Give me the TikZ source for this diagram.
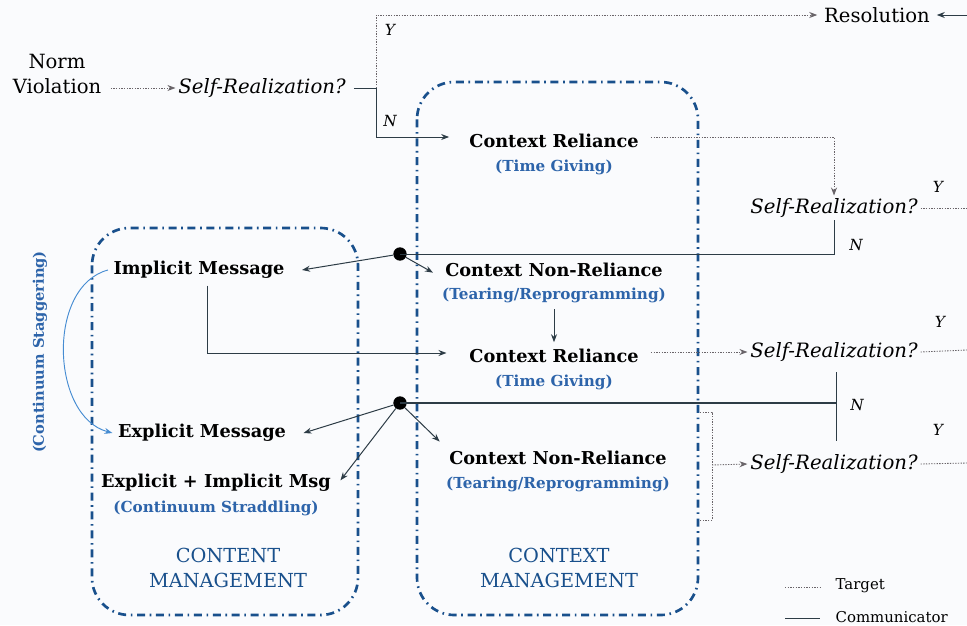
\documentclass[tikz,border=0pt]{standalone}
\usepackage{fontspec}
\setmainfont{DejaVu Serif}
\usetikzlibrary{arrows.meta}
\definecolor{bgc}{RGB}{250,251,253}
\definecolor{boxblue}{RGB}{25,80,140}
\definecolor{txtblue}{RGB}{45,100,170}
\definecolor{arcblue}{RGB}{70,140,210}
\definecolor{commc}{RGB}{45,60,70}
\definecolor{tgtc}{RGB}{105,100,105}
\tikzset{
  mainlbl/.style={font=\fontsize{13.3}{15}\selectfont\bfseries, inner sep=1pt},
  sublbl/.style={font=\fontsize{11.4}{13}\selectfont\bfseries, text=txtblue, inner sep=1pt},
  srlbl/.style={font=\fontsize{14.8}{17}\selectfont\itshape, inner sep=2pt},
  yn/.style={font=\fontsize{11.5}{13}\selectfont\itshape, inner sep=1pt},
  plain/.style={font=\fontsize{14.7}{19}\selectfont, inner sep=1pt},
  mgmt/.style={font=\fontsize{14.5}{19}\selectfont, text=boxblue, align=center, inner sep=1pt},
  comm/.style={draw=commc, line width=0.75pt},
  tgt/.style={draw=tgtc, line width=0.65pt, dash pattern=on 1pt off 1pt},
  arr/.style={-{Stealth[length=6pt,width=4.5pt]}},
  mgbox/.style={draw=boxblue, line width=2pt, rounded corners=28pt, dash pattern=on 6pt off 3.5pt on 1.2pt off 3.5pt},
  jdot/.style={circle, fill=black, inner sep=0pt, minimum size=10pt},
  leg/.style={font=\fontsize{11.2}{13}\selectfont, anchor=west, inner sep=1pt},
}
\begin{document}
\begin{tikzpicture}[x=0.75pt,y=-0.75pt]
\fill[bgc] (0,0) rectangle (967,625);
\useasboundingbox (0,0) rectangle (967,625);

% management boxes
\draw[mgbox] (92,228) rectangle (358,615);
\draw[mgbox] (417,82) rectangle (698,615);
\node[mgmt] (mg1) at (228,568) {CONTENT\\MANAGEMENT};
\node[mgmt] (mg2) at (559,568) {CONTEXT\\MANAGEMENT};

% nodes
\node[plain, align=center] (nv) at (57,74) {Norm\\Violation};
\node[srlbl] (sr0) at (262,88) {Self-Realization?};
\node[plain] (res) at (877,15) {Resolution};
\node[mainlbl] (cr1) at (554,141) {Context Reliance};
\node[sublbl] (tg1) at (554,167) {(Time Giving)};
\node[srlbl] (sr1) at (834,208) {Self-Realization?};
\node[mainlbl] (im) at (199,270) {Implicit Message};
\node[mainlbl] (cnr1) at (554,270) {Context Non-Reliance};
\node[sublbl] (tr1) at (554,295) {(Tearing/Reprogramming)};
\node[mainlbl] (cr2) at (554,356) {Context Reliance};
\node[sublbl] (tg2) at (554,382) {(Time Giving)};
\node[srlbl] (sr2) at (834,352) {Self-Realization?};
\node[mainlbl] (em) at (202,433) {Explicit Message};
\node[mainlbl] (eim) at (216,483) {Explicit + Implicit Msg};
\node[sublbl] (cs) at (216,508) {(Continuum Straddling)};
\node[mainlbl] (cnr2) at (558,458) {Context Non-Reliance};
\node[sublbl] (tr2) at (558,484) {(Tearing/Reprogramming)};
\node[srlbl] (sr3) at (834,464) {Self-Realization?};
\node[sublbl, rotate=90, font=\fontsize{11}{13}\selectfont\bfseries] (stag) at (40,352) {(Continuum Staggering)};

\node[jdot] (d1) at (400,254) {};
\node[jdot] (d2) at (400,403) {};

% coordinates
\coordinate (b0) at (376,88);
\coordinate (redge) at (967,15);
\coordinate (y1e) at (967,208);
\coordinate (y2e) at (967,350);
\coordinate (y3e) at (967,463);
\coordinate (n2t) at (836,372);
\coordinate (n2b) at (836,441);
\coordinate (n2m) at (836,403);
\coordinate (bt) at (700,412);
\coordinate (bb) at (700,520);
\coordinate (bm) at (712,465);

% Y / N labels
\node[yn] at (390,30) {Y};
\node[yn] at (390,121) {N};
\node[yn] at (938,187) {Y};
\node[yn] at (856,245) {N};
\node[yn] at (940,322) {Y};
\node[yn] at (857,405) {N};
\node[yn] at (938,430) {Y};

% connectors
\draw[tgt,arr] ([xshift=6pt]nv.east |- sr0.west) -- (sr0.west);
\draw[comm] ([xshift=4pt]sr0.east) -- (b0);
\draw[tgt,arr] (b0) |- ([xshift=-4pt]res.west);
\draw[comm,arr] (b0) |- ([xshift=-14pt]cr1.west |- 376,137);
\draw[comm,arr] (redge) -- ([xshift=4pt]res.east);

\draw[tgt,arr] ([xshift=8pt]cr1.east |- 0,137) -| (sr1.north);
\draw[tgt] (sr1.east) -- (y1e);
\draw[comm] (sr1.south) |- (d1.center);
\draw[comm,arr] (d1) -- ([xshift=12pt]im.east);
\draw[comm,arr] (d1) -- ([xshift=-8pt,yshift=-2pt]cnr1.west);

\draw[comm,arr] ([yshift=-4pt]tr1.south) -- ([yshift=4pt]cr2.north);
\draw[comm,arr] ([xshift=6pt,yshift=-4pt]im.south) |- ([xshift=-16pt]cr2.west |- 0,353);
\draw[tgt,arr] ([xshift=8pt]cr2.east |- 0,352) -- (sr2.west);
\draw[tgt] (sr2.east) -- (y2e);

\draw[comm] (n2t) -- (n2b);
\draw[comm, line width=1pt] (d2.center) -- (n2m);
\draw[comm,arr] (d2) -- ([xshift=12pt]em.east);
\draw[comm,arr] (d2) -- ([xshift=6pt,yshift=2pt]eim.east);
\draw[comm,arr] (d2) -- ([xshift=-6pt,yshift=6pt]cnr2.north west);

\draw[tgt] (bt) -- (712,412) -- (712,520) -- (bb);
\draw[tgt,arr] (bm) -- (sr3.west);
\draw[tgt] (sr3.east) -- (y3e);

\draw[arcblue, line width=0.7pt, -{Stealth[length=6pt,width=4.5pt]}] ([xshift=-3pt]im.west) to[out=195,in=165] ([xshift=-3pt]em.west);

% legend
\coordinate (l1a) at (785,587);
\coordinate (l1b) at (820,587);
\coordinate (l2a) at (785,618);
\coordinate (l2b) at (820,618);
\draw[tgt] (l1a) -- (l1b);
\draw[comm] (l2a) -- (l2b);
\node[leg] (lt) at (834,586) {Target};
\node[leg] (lc) at (834,617) {Communicator};
\end{tikzpicture}
\end{document}
